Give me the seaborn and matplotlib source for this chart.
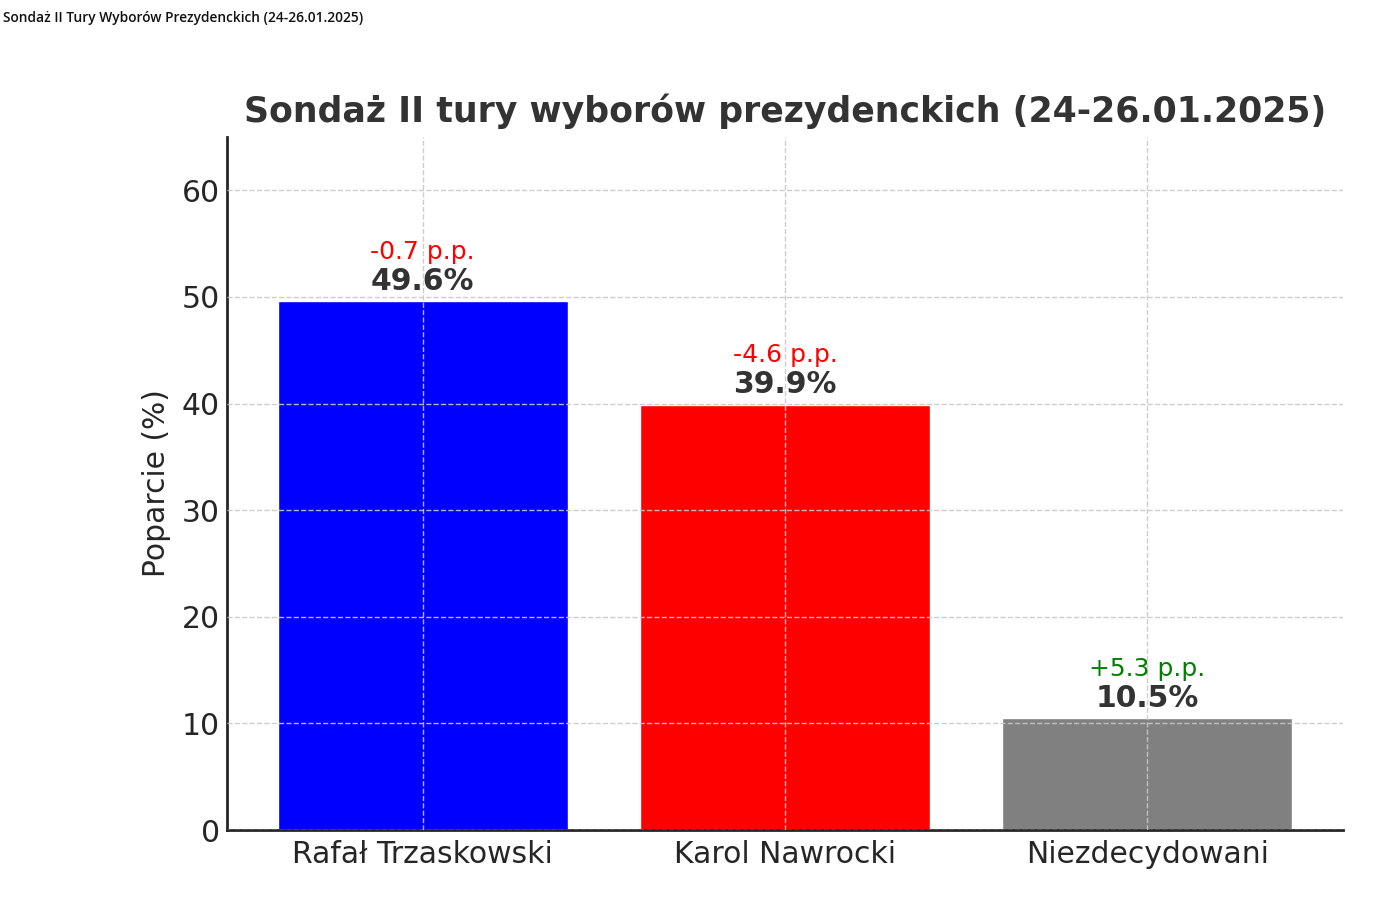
import matplotlib
matplotlib.use("Agg")
import matplotlib.pyplot as plt
import seaborn as sns
import pandas as pd

candidates = ["Rafał Trzaskowski", "Karol Nawrocki", "Niezdecydowani"]
support = [49.6, 39.9, 10.5]
changes = ["-0.7 p.p.", "-4.6 p.p.", "+5.3 p.p."]
change_colors = ["red", "red", "green"]
bar_colors = ["#0000FF", "#FF0000", "#808080"]
yticks = [0, 10, 20, 30, 40, 50, 60]

sns.set_style("white")
plt.rcParams["font.family"] = ["DejaVu Sans"]

df = pd.DataFrame({"Kandydat": candidates, "Poparcie": support})

fig = plt.figure(figsize=(13.76, 9.05), dpi=100)
ax = fig.add_axes([227/1376, 1 - 830/905, (1343-227)/1376, (830-137)/905])

sns.barplot(data=df, x="Kandydat", y="Poparcie", hue="Kandydat", palette=bar_colors,
            legend=False, ax=ax, width=0.8, saturation=1)

ax.set_xlim(-0.54, len(candidates) - 1 + 0.54)
ax.set_ylim(0, 65)
ax.set_yticks(yticks)
ax.set_axisbelow(False)
ax.grid(True, linestyle="--", color="#c8c8c8", linewidth=1.0, alpha=0.9)

for i, (v, c, cc) in enumerate(zip(support, changes, change_colors)):
    ax.text(i, v + 0.5, f"{v}%", ha="center", va="bottom", fontsize=21.5,
            fontweight="bold", color="#333333")
    ax.text(i, v + 3.5, c, ha="center", va="bottom", fontsize=18, color=cc)

ax.set_title("Sondaż II tury wyborów prezydenckich (24-26.01.2025)", fontsize=25,
             fontweight="bold", color="#333333", pad=11)
ax.set_xlabel("")
ax.set_ylabel("Poparcie (%)", fontsize=21.4, color="#262626", labelpad=8)
ax.tick_params(axis="both", labelsize=21.5, colors="#262626", direction="in", length=6, width=1.5)
ax.tick_params(axis="x", pad=7)
ax.tick_params(axis="y", pad=5)
for s in ["top", "right"]:
    ax.spines[s].set_visible(False)
for s in ["left", "bottom"]:
    ax.spines[s].set_color("#262626")
    ax.spines[s].set_linewidth(2)

fig.text(3/1376, 1 - 18/905, "Sondaż II Tury Wyborów Prezydenckich (24-26.01.2025)",
         fontsize=9.9, family=["Open Sans", "DejaVu Sans"], fontweight="semibold",
         color="#111111", ha="left", va="center")

fig.savefig("out.png", dpi=100)
